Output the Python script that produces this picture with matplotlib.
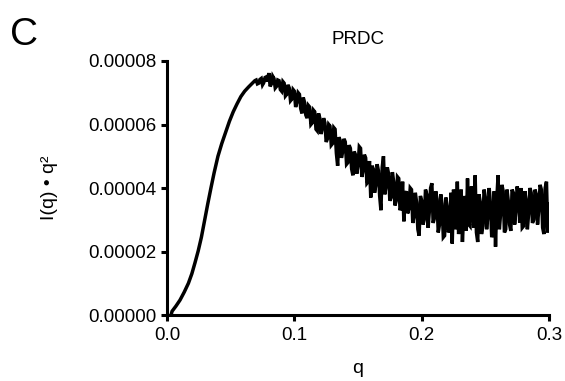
"""Kratky-plot for PRDC, panel C.

Ritar I(q) * q^2 mot q och sparar som out.png.
"""

import matplotlib
import matplotlib.pyplot as plt

matplotlib.use("AGG")

TITLE = "PRDC"
PANEL = "C"
X_LABEL = "q"
Y_LABEL = "I(q) \u2022 q\u00b2"

X_TICKS = [0.0, 0.1, 0.2, 0.3]
X_TICK_LABELS = ["0.0", "0.1", "0.2", "0.3"]
Y_TICKS = [0.0, 0.00002, 0.00004, 0.00006, 0.00008]
Y_TICK_LABELS = ["0.00000", "0.00002", "0.00004", "0.00006", "0.00008"]

# glatt del (I i enheter av 1e-5)
q_smooth = [
    0.0035, 0.0040, 0.0070, 0.0102, 0.0135, 0.0168, 0.0195, 0.0220, 0.0245,
    0.0270, 0.0295, 0.0320, 0.0345, 0.0370, 0.0400, 0.0430, 0.0460, 0.0490,
    0.0520, 0.0550, 0.0580, 0.0610, 0.0640, 0.0670, 0.0690,
]
i_smooth = [
    0.05, 0.12, 0.28, 0.47, 0.72, 1.00, 1.30, 1.65, 2.02,
    2.45, 2.98, 3.50, 4.00, 4.48, 5.00, 5.40, 5.75, 6.10,
    6.40, 6.65, 6.88, 7.05, 7.18, 7.30, 7.38,
]

# brusig del
q_noisy = [
    0.070, 0.071, 0.072, 0.073, 0.074, 0.075, 0.076, 0.077, 0.078, 0.079,
    0.080, 0.081, 0.082, 0.083, 0.084, 0.085, 0.086, 0.087, 0.088, 0.089,
    0.090, 0.091, 0.092, 0.093, 0.094, 0.095, 0.096, 0.097, 0.098, 0.099,
    0.100, 0.101, 0.102, 0.103, 0.104, 0.105, 0.106, 0.107, 0.108, 0.109,
    0.110, 0.111, 0.112, 0.113, 0.114, 0.115, 0.116, 0.117, 0.118, 0.119,
    0.120, 0.121, 0.122, 0.123, 0.124, 0.125, 0.126, 0.127, 0.128, 0.129,
    0.130, 0.131, 0.132, 0.133, 0.134, 0.135, 0.136, 0.137, 0.138, 0.139,
    0.140, 0.141, 0.142, 0.143, 0.144, 0.145, 0.146, 0.147, 0.148, 0.149,
    0.150, 0.151, 0.152, 0.153, 0.154, 0.155, 0.156, 0.157, 0.158, 0.159,
    0.160, 0.161, 0.162, 0.163, 0.164, 0.165, 0.166, 0.167, 0.168, 0.169,
    0.170, 0.171, 0.172, 0.173, 0.174, 0.175, 0.176, 0.177, 0.178, 0.179,
    0.180, 0.181, 0.182, 0.183, 0.184, 0.185, 0.186, 0.187, 0.188, 0.189,
    0.190, 0.191, 0.192, 0.193, 0.194, 0.195, 0.196, 0.197, 0.198, 0.199,
    0.200, 0.201, 0.202, 0.203, 0.204, 0.205, 0.206, 0.207, 0.208, 0.209,
    0.210, 0.211, 0.212, 0.213, 0.214, 0.215, 0.216, 0.217, 0.218, 0.219,
    0.220, 0.221, 0.222, 0.223, 0.224, 0.225, 0.226, 0.227, 0.228, 0.229,
    0.230, 0.231, 0.232, 0.233, 0.234, 0.235, 0.236, 0.237, 0.238, 0.239,
    0.240, 0.241, 0.242, 0.243, 0.244, 0.245, 0.246, 0.247, 0.248, 0.249,
    0.250, 0.251, 0.252, 0.253, 0.254, 0.255, 0.256, 0.257, 0.258, 0.259,
    0.260, 0.261, 0.262, 0.263, 0.264, 0.265, 0.266, 0.267, 0.268, 0.269,
    0.270, 0.271, 0.272, 0.273, 0.274, 0.275, 0.276, 0.277, 0.278, 0.279,
    0.280, 0.281, 0.282, 0.283, 0.284, 0.285, 0.286, 0.287, 0.288, 0.289,
    0.290, 0.291, 0.292, 0.293, 0.294, 0.295, 0.296, 0.297, 0.298, 0.299,
    0.300,
]
i_noisy = [
    7.40, 7.28, 7.30, 7.42, 7.45, 7.25, 7.32, 7.48, 7.50, 7.35,
    7.62, 7.20, 7.28, 7.52, 7.45, 7.15, 7.20, 7.40, 7.38, 7.10,
    7.05, 7.35, 7.30, 6.90, 6.95, 7.25, 7.15, 6.75, 6.80, 7.10,
    7.05, 6.55, 6.70, 7.00, 6.95, 6.50, 6.35, 6.85, 6.70, 6.30,
    6.20, 6.60, 6.55, 6.00, 6.05, 6.45, 6.40, 5.85, 5.80, 6.35,
    6.20, 5.70, 5.90, 6.20, 6.05, 5.45, 5.55, 6.00, 5.95, 5.35,
    5.40, 5.90, 5.85, 5.10, 4.70, 5.60, 5.50, 4.95, 5.15, 5.55,
    5.45, 4.75, 4.80, 5.35, 5.25, 4.60, 4.40, 5.15, 5.05, 4.45,
    4.70, 5.30, 5.25, 4.35, 4.55, 5.05, 4.95, 4.15, 4.20, 4.85,
    3.70, 4.70, 4.60, 3.85, 4.10, 4.75, 4.55, 3.75, 3.30, 4.65,
    5.00, 3.80, 4.05, 4.65, 4.45, 3.60, 3.70, 4.50, 4.20, 3.45,
    3.60, 4.35, 4.30, 3.30, 3.40, 4.20, 2.95, 3.80, 3.90, 3.20,
    3.35, 4.00, 3.95, 2.90, 3.10, 3.85, 3.55, 2.70, 2.50, 3.75,
    3.60, 2.85, 3.00, 3.95, 3.80, 2.75, 3.25, 4.00, 4.15, 2.90,
    3.05, 3.90, 3.65, 2.60, 2.85, 3.80, 3.50, 2.45, 2.50, 3.70,
    3.40, 2.60, 2.75, 3.85, 2.25, 3.95, 3.60, 2.70, 4.20, 2.55,
    2.90, 3.95, 2.30, 3.20, 3.75, 2.65, 4.30, 2.85, 2.80, 4.05,
    3.90, 2.75, 4.40, 2.60, 2.30, 3.80, 3.55, 2.55, 2.80, 3.95,
    3.70, 2.70, 3.15, 4.00, 3.50, 2.45, 2.60, 3.90, 2.15, 3.65,
    4.40, 2.70, 3.20, 4.10, 3.90, 2.60, 2.70, 3.95, 3.60, 2.85,
    2.65, 3.95, 3.85, 2.85, 3.30, 4.05, 3.75, 2.90, 4.00, 2.75,
    2.80, 3.90, 3.60, 2.70, 3.20, 4.00, 3.85, 2.90, 3.00, 3.95,
    3.80, 2.85, 3.35, 4.10, 3.95, 2.75, 2.55, 4.00, 4.20, 2.60,
    3.50,
]

SCALE = 1e-5


def draw_diagram():
    """Ritar diagrammet."""
    plt.rcParams["font.family"] = ["Liberation Sans", "DejaVu Sans"]
    fig = plt.figure(figsize=(5.65, 3.81), dpi=100)
    ax = fig.add_axes([0.2956, 0.1732, 0.6761, 0.6667])

    q = q_smooth + q_noisy
    iq = [v * SCALE for v in i_smooth + i_noisy]
    ax.plot(q, iq, color="black", linewidth=2.5, solid_joinstyle="miter")

    ax.set_xlim(0.0, 0.3)
    ax.set_ylim(0.0, 0.00008)
    ax.set_xticks(X_TICKS)
    ax.set_xticklabels(X_TICK_LABELS)
    ax.set_yticks(Y_TICKS)
    ax.set_yticklabels(Y_TICK_LABELS)

    for side in ["top", "right"]:
        ax.spines[side].set_visible(False)
    for side in ["left", "bottom"]:
        ax.spines[side].set_linewidth(2.2)
    ax.tick_params(direction="out", length=4.5, width=2.2, labelsize=13.5,
                   colors="black")
    ax.tick_params(axis="x", pad=4)
    ax.tick_params(axis="y", pad=3)

    ax.set_title(TITLE, fontsize=13.5, pad=12)
    ax.set_xlabel(X_LABEL, fontsize=14, labelpad=12)
    ax.set_ylabel(Y_LABEL, fontsize=14, labelpad=22)
    fig.text(0.018, 0.955, PANEL, fontsize=28, va="top", ha="left")

    fig.savefig("out.png", dpi=100)


if __name__ == "__main__":
    draw_diagram()
